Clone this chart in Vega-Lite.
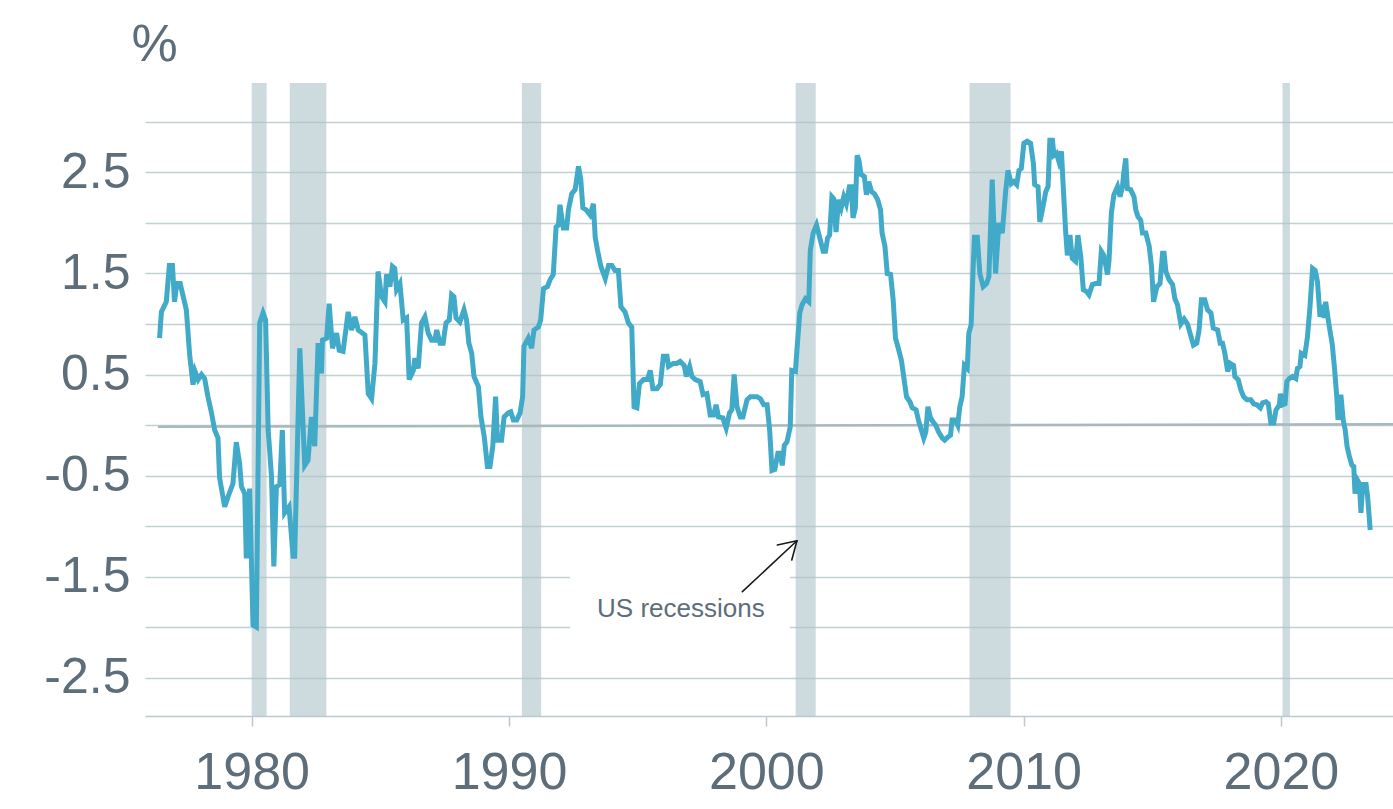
{
  "$schema": "https://vega.github.io/schema/vega-lite/v6.json",
  "width": 1248,
  "height": 633,
  "autosize": {"type": "none"},
  "padding": {"left": 145, "top": 83, "right": 0, "bottom": 93},
  "background": "white",
  "config": {
    "view": {"stroke": null},
    "font": "Liberation Sans"
  },
  "datasets": {
    "recessions": [
      {"start": 1980.0, "end": 1980.58},
      {"start": 1981.48, "end": 1982.9},
      {"start": 1990.5, "end": 1991.25},
      {"start": 2001.14, "end": 2001.92},
      {"start": 2007.9, "end": 2009.49},
      {"start": 2020.06, "end": 2020.35}
    ],
    "spread": [
      {"t": 1976.42, "v": 0.86}, {"t": 1976.49, "v": 1.12}, {"t": 1976.68, "v": 1.22}, {"t": 1976.80, "v": 1.58},
      {"t": 1976.92, "v": 1.58}, {"t": 1977.00, "v": 1.22}, {"t": 1977.09, "v": 1.40}, {"t": 1977.22, "v": 1.40},
      {"t": 1977.46, "v": 1.14}, {"t": 1977.59, "v": 0.69}, {"t": 1977.72, "v": 0.40}, {"t": 1977.80, "v": 0.53},
      {"t": 1977.92, "v": 0.45}, {"t": 1978.05, "v": 0.50}, {"t": 1978.17, "v": 0.46}, {"t": 1978.30, "v": 0.28},
      {"t": 1978.43, "v": 0.13}, {"t": 1978.56, "v": -0.05}, {"t": 1978.69, "v": -0.13}, {"t": 1978.75, "v": -0.52},
      {"t": 1978.95, "v": -0.81}, {"t": 1979.08, "v": -0.71}, {"t": 1979.27, "v": -0.58}, {"t": 1979.40, "v": -0.17},
      {"t": 1979.53, "v": -0.38}, {"t": 1979.60, "v": -0.61}, {"t": 1979.73, "v": -0.68}, {"t": 1979.79, "v": -1.32},
      {"t": 1979.92, "v": -0.63}, {"t": 1980.05, "v": -1.98}, {"t": 1980.18, "v": -2.00}, {"t": 1980.31, "v": 1.01},
      {"t": 1980.44, "v": 1.11}, {"t": 1980.54, "v": 1.04}, {"t": 1980.64, "v": -0.05}, {"t": 1980.77, "v": -0.51},
      {"t": 1980.86, "v": -1.40}, {"t": 1980.96, "v": -0.61}, {"t": 1981.09, "v": -0.59}, {"t": 1981.19, "v": -0.05},
      {"t": 1981.28, "v": -0.87}, {"t": 1981.45, "v": -0.81}, {"t": 1981.61, "v": -1.30}, {"t": 1981.67, "v": -1.30},
      {"t": 1981.87, "v": 0.76}, {"t": 1982.06, "v": -0.40}, {"t": 1982.19, "v": -0.35}, {"t": 1982.32, "v": 0.08},
      {"t": 1982.45, "v": -0.21}, {"t": 1982.58, "v": 0.81}, {"t": 1982.71, "v": 0.51}, {"t": 1982.75, "v": 0.84},
      {"t": 1982.91, "v": 0.86}, {"t": 1983.01, "v": 1.20}, {"t": 1983.14, "v": 0.76}, {"t": 1983.30, "v": 0.91},
      {"t": 1983.40, "v": 0.74}, {"t": 1983.55, "v": 0.73}, {"t": 1983.75, "v": 1.12}, {"t": 1983.88, "v": 0.94},
      {"t": 1984.01, "v": 1.07}, {"t": 1984.14, "v": 0.94}, {"t": 1984.40, "v": 0.89}, {"t": 1984.53, "v": 0.31},
      {"t": 1984.66, "v": 0.26}, {"t": 1984.79, "v": 0.61}, {"t": 1984.91, "v": 1.52}, {"t": 1985.05, "v": 1.27},
      {"t": 1985.18, "v": 1.22}, {"t": 1985.24, "v": 1.49}, {"t": 1985.37, "v": 1.37}, {"t": 1985.47, "v": 1.57},
      {"t": 1985.56, "v": 1.55}, {"t": 1985.63, "v": 1.34}, {"t": 1985.76, "v": 1.40}, {"t": 1985.89, "v": 1.04},
      {"t": 1986.02, "v": 1.06}, {"t": 1986.12, "v": 0.45}, {"t": 1986.28, "v": 0.54}, {"t": 1986.34, "v": 0.66},
      {"t": 1986.47, "v": 0.56}, {"t": 1986.60, "v": 1.01}, {"t": 1986.73, "v": 1.07}, {"t": 1986.86, "v": 0.91},
      {"t": 1986.99, "v": 0.84}, {"t": 1987.12, "v": 0.84}, {"t": 1987.19, "v": 0.94}, {"t": 1987.32, "v": 0.81},
      {"t": 1987.44, "v": 0.81}, {"t": 1987.55, "v": 1.01}, {"t": 1987.68, "v": 1.04}, {"t": 1987.77, "v": 1.29},
      {"t": 1987.86, "v": 1.27}, {"t": 1987.94, "v": 1.06}, {"t": 1988.09, "v": 1.02}, {"t": 1988.25, "v": 1.14},
      {"t": 1988.35, "v": 1.04}, {"t": 1988.44, "v": 0.81}, {"t": 1988.55, "v": 0.71}, {"t": 1988.64, "v": 0.48},
      {"t": 1988.81, "v": 0.38}, {"t": 1988.91, "v": 0.08}, {"t": 1989.04, "v": -0.12}, {"t": 1989.16, "v": -0.41},
      {"t": 1989.26, "v": -0.41}, {"t": 1989.37, "v": -0.21}, {"t": 1989.48, "v": 0.28}, {"t": 1989.55, "v": -0.15},
      {"t": 1989.71, "v": -0.15}, {"t": 1989.81, "v": 0.08}, {"t": 1989.97, "v": 0.12}, {"t": 1990.07, "v": 0.13},
      {"t": 1990.17, "v": 0.05}, {"t": 1990.30, "v": 0.05}, {"t": 1990.43, "v": 0.12}, {"t": 1990.53, "v": 0.28},
      {"t": 1990.58, "v": 0.78}, {"t": 1990.75, "v": 0.86}, {"t": 1990.88, "v": 0.76}, {"t": 1990.97, "v": 0.94},
      {"t": 1991.14, "v": 0.97}, {"t": 1991.23, "v": 1.04}, {"t": 1991.34, "v": 1.35}, {"t": 1991.49, "v": 1.37},
      {"t": 1991.60, "v": 1.44}, {"t": 1991.72, "v": 1.49}, {"t": 1991.83, "v": 1.96}, {"t": 1991.92, "v": 1.98},
      {"t": 1991.98, "v": 2.18}, {"t": 1992.11, "v": 1.95}, {"t": 1992.24, "v": 1.95}, {"t": 1992.31, "v": 2.13},
      {"t": 1992.44, "v": 2.29}, {"t": 1992.57, "v": 2.33}, {"t": 1992.70, "v": 2.56}, {"t": 1992.79, "v": 2.43},
      {"t": 1992.87, "v": 2.15}, {"t": 1993.00, "v": 2.13}, {"t": 1993.15, "v": 2.08}, {"t": 1993.28, "v": 2.19},
      {"t": 1993.35, "v": 1.86}, {"t": 1993.44, "v": 1.73}, {"t": 1993.57, "v": 1.57}, {"t": 1993.74, "v": 1.45},
      {"t": 1993.87, "v": 1.58}, {"t": 1994.00, "v": 1.58}, {"t": 1994.12, "v": 1.53}, {"t": 1994.25, "v": 1.53},
      {"t": 1994.35, "v": 1.17}, {"t": 1994.51, "v": 1.12}, {"t": 1994.64, "v": 1.01}, {"t": 1994.77, "v": 0.97},
      {"t": 1994.86, "v": 0.18}, {"t": 1994.97, "v": 0.17}, {"t": 1995.07, "v": 0.41}, {"t": 1995.23, "v": 0.45},
      {"t": 1995.38, "v": 0.45}, {"t": 1995.49, "v": 0.54}, {"t": 1995.59, "v": 0.36}, {"t": 1995.75, "v": 0.36},
      {"t": 1995.88, "v": 0.40}, {"t": 1996.00, "v": 0.68}, {"t": 1996.14, "v": 0.68}, {"t": 1996.20, "v": 0.58},
      {"t": 1996.39, "v": 0.61}, {"t": 1996.52, "v": 0.61}, {"t": 1996.65, "v": 0.63}, {"t": 1996.81, "v": 0.59},
      {"t": 1996.89, "v": 0.48}, {"t": 1997.02, "v": 0.58}, {"t": 1997.11, "v": 0.48}, {"t": 1997.24, "v": 0.45},
      {"t": 1997.43, "v": 0.43}, {"t": 1997.54, "v": 0.30}, {"t": 1997.69, "v": 0.31}, {"t": 1997.82, "v": 0.10},
      {"t": 1997.95, "v": 0.10}, {"t": 1998.05, "v": 0.20}, {"t": 1998.14, "v": 0.08}, {"t": 1998.31, "v": 0.07},
      {"t": 1998.44, "v": -0.03}, {"t": 1998.57, "v": 0.12}, {"t": 1998.66, "v": 0.15}, {"t": 1998.75, "v": 0.50},
      {"t": 1998.86, "v": 0.18}, {"t": 1998.99, "v": 0.08}, {"t": 1999.09, "v": 0.08}, {"t": 1999.25, "v": 0.25},
      {"t": 1999.38, "v": 0.28}, {"t": 1999.51, "v": 0.28}, {"t": 1999.64, "v": 0.28}, {"t": 1999.77, "v": 0.26},
      {"t": 1999.90, "v": 0.20}, {"t": 2000.03, "v": 0.20}, {"t": 2000.13, "v": -0.05}, {"t": 2000.22, "v": -0.45},
      {"t": 2000.33, "v": -0.44}, {"t": 2000.45, "v": -0.28}, {"t": 2000.54, "v": -0.28}, {"t": 2000.62, "v": -0.40},
      {"t": 2000.70, "v": -0.20}, {"t": 2000.80, "v": -0.17}, {"t": 2000.93, "v": -0.02}, {"t": 2000.99, "v": 0.54},
      {"t": 2001.13, "v": 0.53}, {"t": 2001.19, "v": 0.74}, {"t": 2001.30, "v": 1.11}, {"t": 2001.39, "v": 1.19},
      {"t": 2001.52, "v": 1.25}, {"t": 2001.65, "v": 1.22}, {"t": 2001.71, "v": 1.73}, {"t": 2001.82, "v": 1.90},
      {"t": 2001.95, "v": 1.98}, {"t": 2002.07, "v": 1.86}, {"t": 2002.21, "v": 1.72}, {"t": 2002.30, "v": 1.72},
      {"t": 2002.38, "v": 1.85}, {"t": 2002.46, "v": 1.88}, {"t": 2002.55, "v": 2.26}, {"t": 2002.62, "v": 2.24},
      {"t": 2002.71, "v": 1.91}, {"t": 2002.81, "v": 2.23}, {"t": 2002.91, "v": 2.15}, {"t": 2003.01, "v": 2.26},
      {"t": 2003.11, "v": 2.19}, {"t": 2003.23, "v": 2.36}, {"t": 2003.30, "v": 2.36}, {"t": 2003.37, "v": 2.05},
      {"t": 2003.46, "v": 2.15}, {"t": 2003.53, "v": 2.67}, {"t": 2003.60, "v": 2.62}, {"t": 2003.68, "v": 2.48},
      {"t": 2003.81, "v": 2.46}, {"t": 2003.89, "v": 2.28}, {"t": 2003.98, "v": 2.41}, {"t": 2004.09, "v": 2.31},
      {"t": 2004.20, "v": 2.29}, {"t": 2004.33, "v": 2.23}, {"t": 2004.44, "v": 2.13}, {"t": 2004.50, "v": 1.90},
      {"t": 2004.61, "v": 1.77}, {"t": 2004.70, "v": 1.50}, {"t": 2004.83, "v": 1.49}, {"t": 2004.93, "v": 1.24},
      {"t": 2005.02, "v": 0.86}, {"t": 2005.15, "v": 0.74}, {"t": 2005.25, "v": 0.64}, {"t": 2005.34, "v": 0.48},
      {"t": 2005.45, "v": 0.28}, {"t": 2005.58, "v": 0.23}, {"t": 2005.67, "v": 0.17}, {"t": 2005.82, "v": 0.15},
      {"t": 2005.93, "v": 0.03}, {"t": 2005.99, "v": -0.02}, {"t": 2006.12, "v": -0.13}, {"t": 2006.20, "v": -0.07},
      {"t": 2006.28, "v": 0.18}, {"t": 2006.38, "v": 0.07}, {"t": 2006.51, "v": 0.02}, {"t": 2006.58, "v": 0.00},
      {"t": 2006.70, "v": -0.07}, {"t": 2006.84, "v": -0.13}, {"t": 2006.93, "v": -0.15}, {"t": 2007.05, "v": -0.12},
      {"t": 2007.16, "v": -0.10}, {"t": 2007.22, "v": 0.05}, {"t": 2007.35, "v": 0.05}, {"t": 2007.44, "v": 0.00},
      {"t": 2007.52, "v": 0.18}, {"t": 2007.61, "v": 0.28}, {"t": 2007.70, "v": 0.59}, {"t": 2007.81, "v": 0.56},
      {"t": 2007.87, "v": 0.91}, {"t": 2007.96, "v": 0.99}, {"t": 2008.04, "v": 1.57}, {"t": 2008.09, "v": 1.86},
      {"t": 2008.20, "v": 1.86}, {"t": 2008.30, "v": 1.50}, {"t": 2008.43, "v": 1.37}, {"t": 2008.56, "v": 1.40},
      {"t": 2008.65, "v": 1.47}, {"t": 2008.78, "v": 2.43}, {"t": 2008.91, "v": 1.50}, {"t": 2009.04, "v": 2.00},
      {"t": 2009.17, "v": 1.90}, {"t": 2009.30, "v": 2.31}, {"t": 2009.39, "v": 2.52}, {"t": 2009.52, "v": 2.39},
      {"t": 2009.62, "v": 2.41}, {"t": 2009.73, "v": 2.38}, {"t": 2009.82, "v": 2.52}, {"t": 2009.91, "v": 2.54},
      {"t": 2010.01, "v": 2.79}, {"t": 2010.14, "v": 2.81}, {"t": 2010.27, "v": 2.79}, {"t": 2010.38, "v": 2.59},
      {"t": 2010.43, "v": 2.38}, {"t": 2010.56, "v": 2.36}, {"t": 2010.63, "v": 2.01}, {"t": 2010.73, "v": 2.13},
      {"t": 2010.86, "v": 2.31}, {"t": 2010.95, "v": 2.36}, {"t": 2011.02, "v": 2.82}, {"t": 2011.12, "v": 2.82},
      {"t": 2011.18, "v": 2.67}, {"t": 2011.28, "v": 2.69}, {"t": 2011.37, "v": 2.61}, {"t": 2011.47, "v": 2.71},
      {"t": 2011.54, "v": 2.36}, {"t": 2011.63, "v": 1.93}, {"t": 2011.70, "v": 1.68}, {"t": 2011.80, "v": 1.88},
      {"t": 2011.89, "v": 1.65}, {"t": 2012.02, "v": 1.62}, {"t": 2012.11, "v": 1.88}, {"t": 2012.22, "v": 1.67},
      {"t": 2012.32, "v": 1.34}, {"t": 2012.45, "v": 1.32}, {"t": 2012.54, "v": 1.29}, {"t": 2012.67, "v": 1.39},
      {"t": 2012.80, "v": 1.40}, {"t": 2012.93, "v": 1.40}, {"t": 2013.02, "v": 1.72}, {"t": 2013.12, "v": 1.68},
      {"t": 2013.26, "v": 1.49}, {"t": 2013.32, "v": 1.63}, {"t": 2013.41, "v": 2.10}, {"t": 2013.51, "v": 2.28},
      {"t": 2013.65, "v": 2.36}, {"t": 2013.75, "v": 2.26}, {"t": 2013.84, "v": 2.36}, {"t": 2013.90, "v": 2.51},
      {"t": 2013.97, "v": 2.64}, {"t": 2014.03, "v": 2.34}, {"t": 2014.16, "v": 2.33}, {"t": 2014.29, "v": 2.26},
      {"t": 2014.36, "v": 2.13}, {"t": 2014.45, "v": 2.06}, {"t": 2014.55, "v": 2.03}, {"t": 2014.62, "v": 1.90},
      {"t": 2014.75, "v": 1.90}, {"t": 2014.88, "v": 1.77}, {"t": 2014.97, "v": 1.57}, {"t": 2015.05, "v": 1.22},
      {"t": 2015.18, "v": 1.37}, {"t": 2015.30, "v": 1.40}, {"t": 2015.40, "v": 1.70}, {"t": 2015.46, "v": 1.70},
      {"t": 2015.53, "v": 1.52}, {"t": 2015.65, "v": 1.44}, {"t": 2015.79, "v": 1.39}, {"t": 2015.88, "v": 1.25},
      {"t": 2015.98, "v": 1.19}, {"t": 2016.11, "v": 1.00}, {"t": 2016.24, "v": 1.05}, {"t": 2016.37, "v": 1.00},
      {"t": 2016.50, "v": 0.88}, {"t": 2016.60, "v": 0.79}, {"t": 2016.73, "v": 0.81}, {"t": 2016.82, "v": 0.94},
      {"t": 2016.91, "v": 1.24}, {"t": 2017.04, "v": 1.24}, {"t": 2017.15, "v": 1.14}, {"t": 2017.28, "v": 1.11},
      {"t": 2017.37, "v": 0.96}, {"t": 2017.54, "v": 0.94}, {"t": 2017.64, "v": 0.81}, {"t": 2017.73, "v": 0.81},
      {"t": 2017.82, "v": 0.71}, {"t": 2017.93, "v": 0.53}, {"t": 2018.03, "v": 0.61}, {"t": 2018.16, "v": 0.59},
      {"t": 2018.21, "v": 0.48}, {"t": 2018.34, "v": 0.45}, {"t": 2018.44, "v": 0.35}, {"t": 2018.55, "v": 0.28},
      {"t": 2018.68, "v": 0.25}, {"t": 2018.83, "v": 0.25}, {"t": 2018.94, "v": 0.21}, {"t": 2019.07, "v": 0.20},
      {"t": 2019.20, "v": 0.17}, {"t": 2019.29, "v": 0.22}, {"t": 2019.42, "v": 0.23}, {"t": 2019.51, "v": 0.21},
      {"t": 2019.61, "v": 0.02}, {"t": 2019.72, "v": 0.02}, {"t": 2019.81, "v": 0.15}, {"t": 2019.94, "v": 0.20},
      {"t": 2019.98, "v": 0.31}, {"t": 2020.07, "v": 0.20}, {"t": 2020.16, "v": 0.21}, {"t": 2020.23, "v": 0.43},
      {"t": 2020.32, "v": 0.46}, {"t": 2020.45, "v": 0.48}, {"t": 2020.58, "v": 0.46}, {"t": 2020.64, "v": 0.56},
      {"t": 2020.74, "v": 0.58}, {"t": 2020.79, "v": 0.71}, {"t": 2020.93, "v": 0.69}, {"t": 2021.03, "v": 0.87},
      {"t": 2021.13, "v": 1.17}, {"t": 2021.23, "v": 1.55}, {"t": 2021.33, "v": 1.53}, {"t": 2021.42, "v": 1.42},
      {"t": 2021.52, "v": 1.07}, {"t": 2021.62, "v": 1.19}, {"t": 2021.68, "v": 1.06}, {"t": 2021.74, "v": 1.22},
      {"t": 2021.87, "v": 0.99}, {"t": 2022.00, "v": 0.79}, {"t": 2022.09, "v": 0.54}, {"t": 2022.17, "v": 0.28},
      {"t": 2022.22, "v": 0.05}, {"t": 2022.33, "v": 0.30}, {"t": 2022.42, "v": 0.05}, {"t": 2022.50, "v": -0.05},
      {"t": 2022.57, "v": -0.21}, {"t": 2022.66, "v": -0.31}, {"t": 2022.76, "v": -0.40}, {"t": 2022.83, "v": -0.41},
      {"t": 2022.88, "v": -0.68}, {"t": 2022.96, "v": -0.54}, {"t": 2023.05, "v": -0.58}, {"t": 2023.11, "v": -0.87},
      {"t": 2023.18, "v": -0.59}, {"t": 2023.31, "v": -0.59}, {"t": 2023.37, "v": -0.71}, {"t": 2023.47, "v": -1.04}
    ]
  },
  "layer": [
    {
      "data": {"name": "recessions"},
      "mark": {"type": "rect", "color": "#acc3ca", "opacity": 0.6},
      "encoding": {
        "x": {
          "field": "start", "type": "quantitative", "title": null,
          "scale": {"domain": [1975.853, 2024.356], "nice": false, "zero": false},
          "axis": {
            "values": [1980, 1990, 2000, 2010, 2020], "format": "d",
            "grid": false, "domainColor": "#bccacf", "domainWidth": 1.5,
            "tickColor": "#bccacf", "tickWidth": 1.5, "tickSize": 10,
            "labelFontSize": 52, "labelColor": "#5d6e7a", "labelFont": "Liberation Sans",
            "labelBaseline": "alphabetic", "labelPadding": 62, "labelFlush": false, "labelOverlap": false
          }
        },
        "x2": {"field": "end"}
      }
    },
    {
      "data": {"values": [{"x0": 1992.37, "x1": 2000.92, "y0": -1.48, "y1": -2.03}]},
      "mark": {"type": "rect", "color": "white"},
      "encoding": {
        "x": {"field": "x0", "type": "quantitative", "title": null},
        "x2": {"field": "x1"},
        "y": {
          "field": "y0", "type": "quantitative", "title": "%",
          "scale": {"domain": [-2.881, 3.386], "nice": false, "zero": false},
          "axis": {
            "titleAngle": 0, "titleAlign": "center", "titleX": 9, "titleY": -23,
            "titleBaseline": "alphabetic", "titleFontSize": 52, "titleFontWeight": "normal",
            "titleColor": "#5d6e7a", "titleFont": "Liberation Sans",
            "values": [-2.5, -2, -1.5, -1, -0.5, 0, 0.5, 1, 1.5, 2, 2.5, 3],
            "labelExpr": "((datum.value + 0.5) % 1 == 0) ? ('' + datum.value) : ''",
            "grid": true, "gridColor": "#c3d0d4", "gridWidth": 1.5,
            "ticks": false, "domain": false,
            "labelFontSize": 50, "labelColor": "#5d6e7a", "labelFont": "Liberation Sans",
            "labelPadding": 15, "labelBaseline": "middle"
          }
        },
        "y2": {"field": "y1"}
      }
    },
    {
      "data": {"values": [{"x0": 1976.36, "x1": 2024.356, "y0": -0.017, "y1": 0.007}]},
      "mark": {"type": "rule", "color": "#a9b8bd", "strokeWidth": 2.5},
      "encoding": {
        "x": {"field": "x0", "type": "quantitative"},
        "x2": {"field": "x1"},
        "y": {"field": "y0", "type": "quantitative"},
        "y2": {"field": "y1"}
      }
    },
    {
      "data": {"name": "spread"},
      "mark": {"type": "line", "color": "#41aac8", "strokeWidth": 5, "strokeJoin": "miter"},
      "encoding": {
        "x": {"field": "t", "type": "quantitative"},
        "y": {"field": "v", "type": "quantitative"}
      }
    },
    {
      "data": {"values": [
        {"x0": 1999.07, "y0": -1.650, "x1": 2001.19, "y1": -1.146},
        {"x0": 2001.19, "y0": -1.146, "x1": 2000.43, "y1": -1.188},
        {"x0": 2001.19, "y0": -1.146, "x1": 2000.99, "y1": -1.337}
      ]},
      "mark": {"type": "rule", "color": "#1a1a1a", "strokeWidth": 1.6, "strokeCap": "round"},
      "encoding": {
        "x": {"field": "x0", "type": "quantitative"},
        "x2": {"field": "x1"},
        "y": {"field": "y0", "type": "quantitative"},
        "y2": {"field": "y1"}
      }
    },
    {
      "data": {"values": [{"x": 1996.68, "y": -1.822, "label": "US recessions"}]},
      "mark": {"type": "text", "fontSize": 26, "color": "#5d6e7a", "font": "Liberation Sans", "align": "center", "baseline": "middle"},
      "encoding": {
        "x": {"field": "x", "type": "quantitative"},
        "y": {"field": "y", "type": "quantitative"},
        "text": {"field": "label"}
      }
    }
  ]
}
